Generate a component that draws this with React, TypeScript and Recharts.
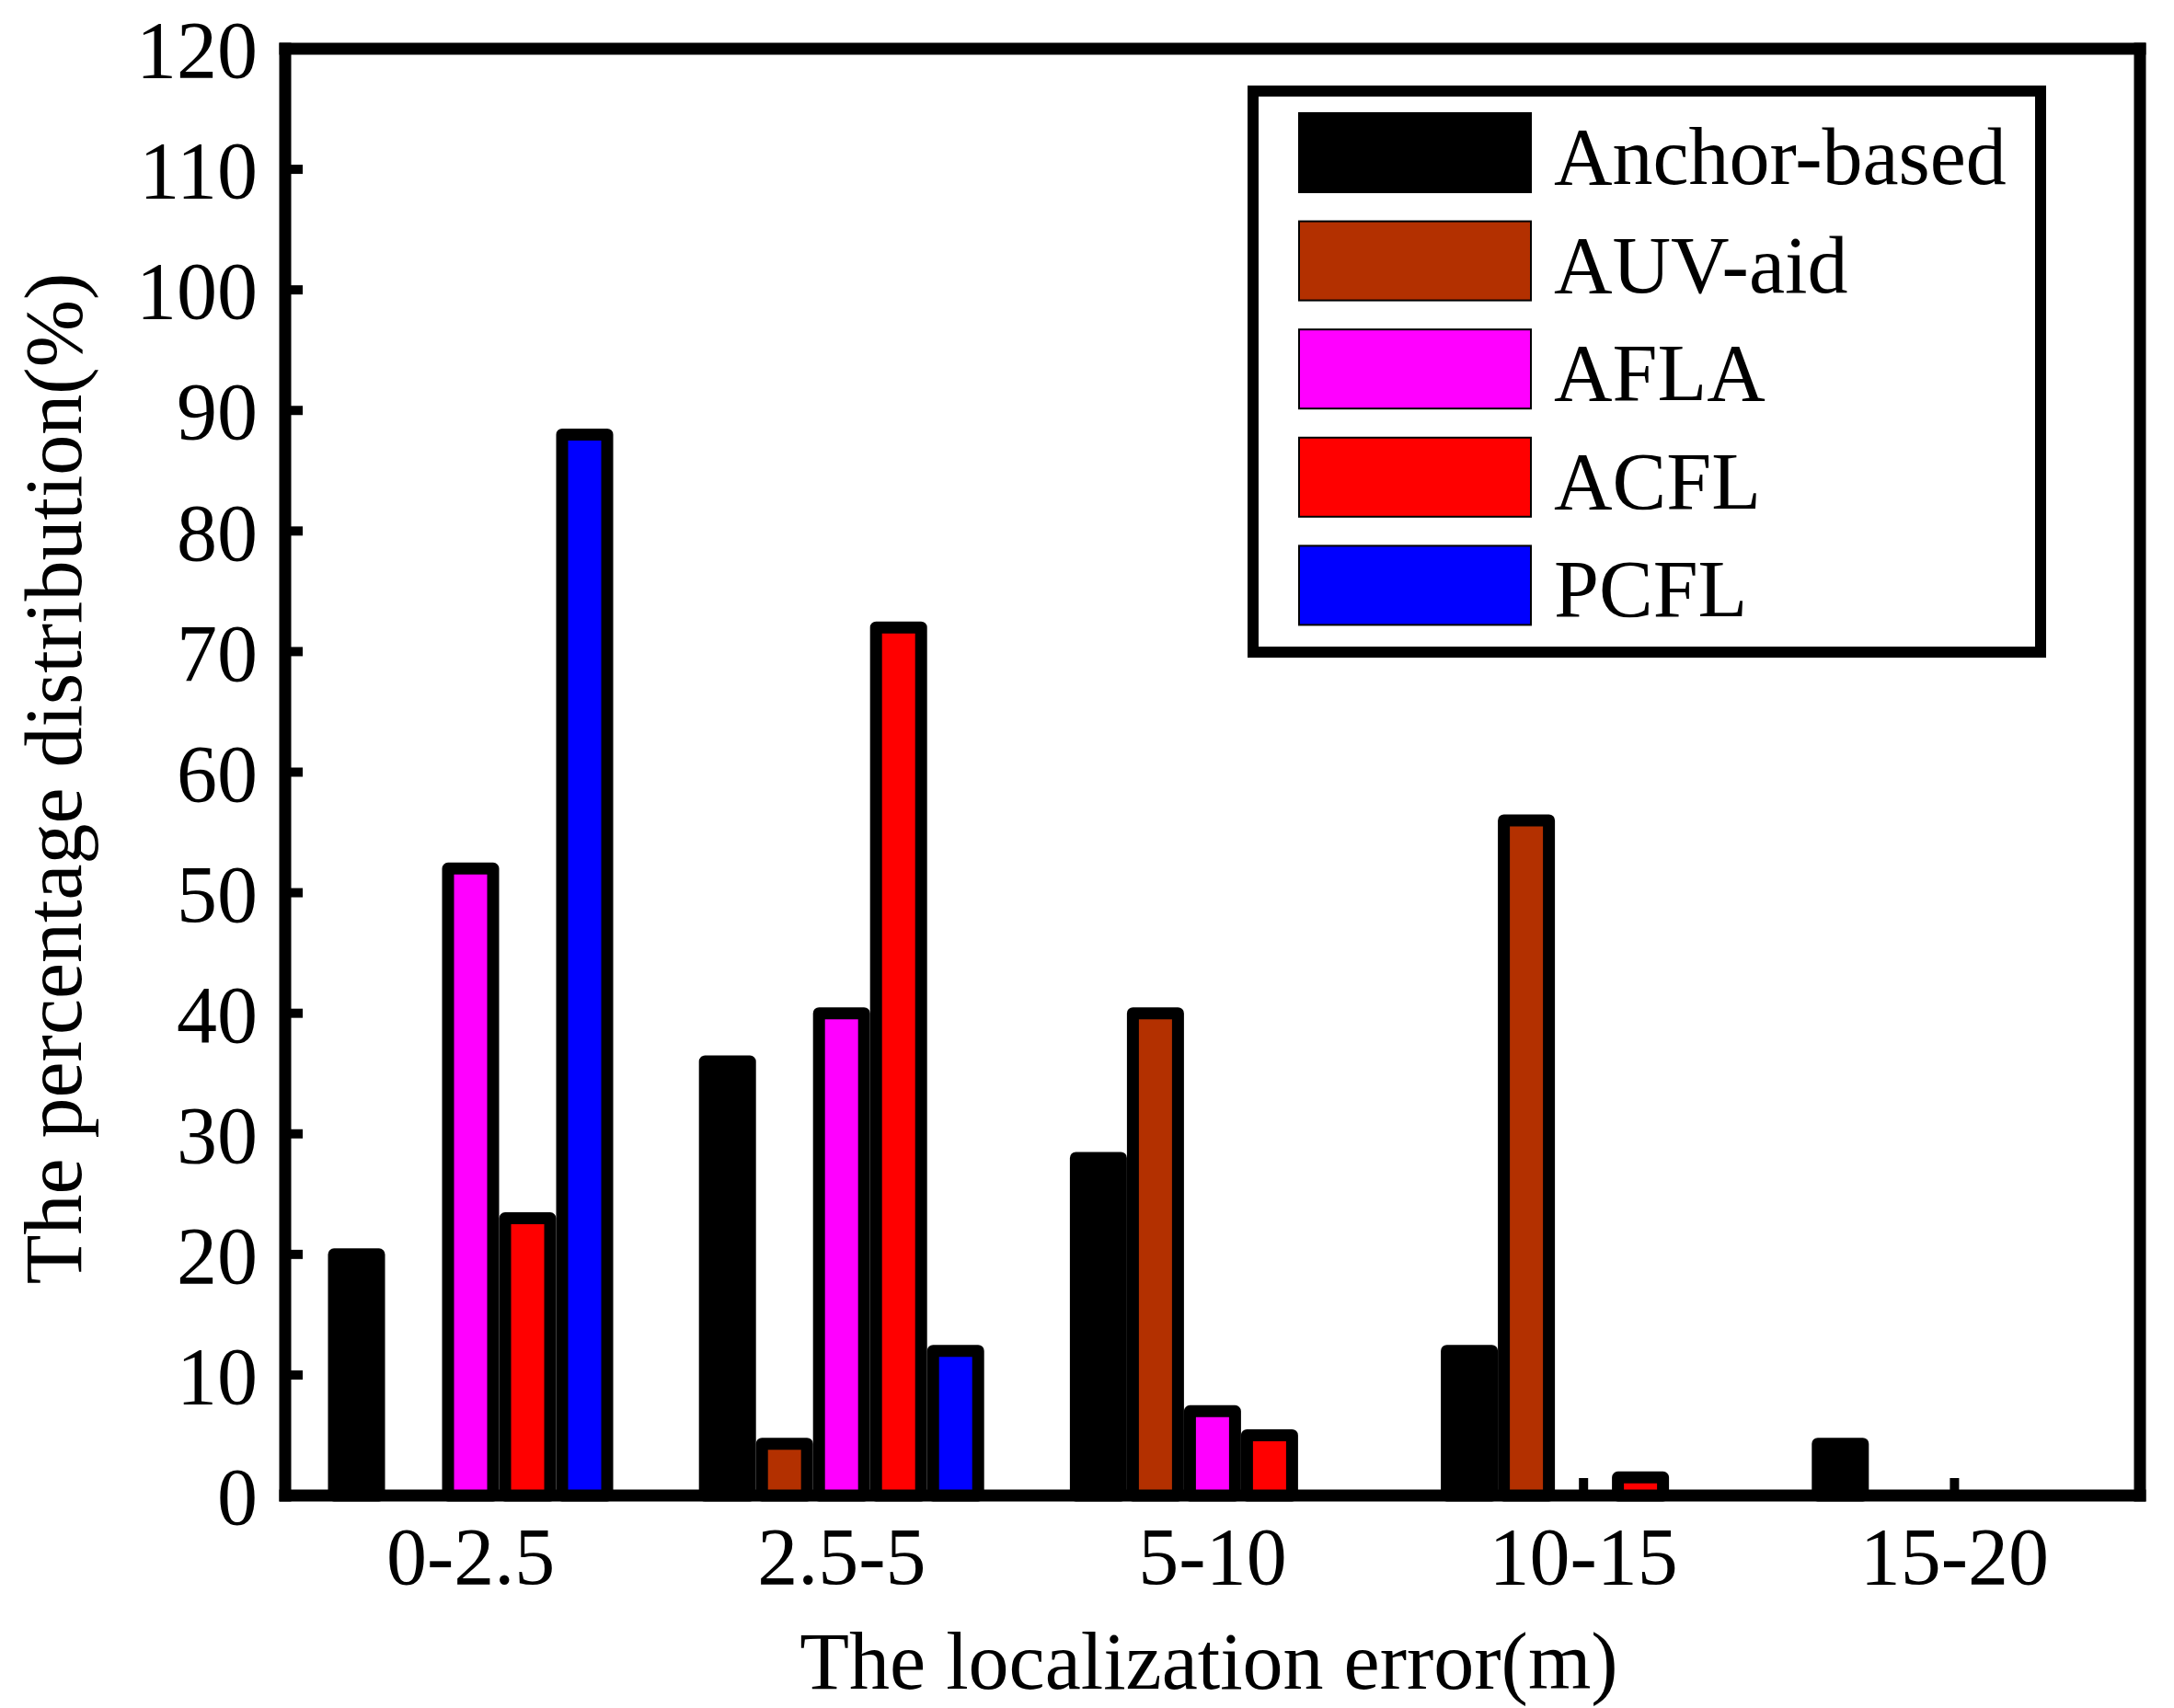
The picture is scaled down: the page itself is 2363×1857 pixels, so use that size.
import React from 'react';
import { BarChart, Bar, XAxis, YAxis, Legend, Label } from 'recharts';

const categories = ['0-2.5', '2.5-5', '5-10', '10-15', '15-20'];
const anchorBased = [20, 36, 28, 12, 4.3];
const auvAid = [0, 4.3, 40, 56, 0];
const afla = [52, 40, 7, 0, 0];
const acfl = [23, 72, 5, 1.5, 0];
const pcfl = [88, 12, 0, 0, 0];
const yTicks = [0, 10, 20, 30, 40, 50, 60, 70, 80, 90, 100, 110, 120];
const seriesNames = ['Anchor-based', 'AUV-aid', 'AFLA', 'ACFL', 'PCFL'];
const seriesColors = ['#000000', '#B33000', '#FF00FF', '#FF0000', '#0000FF'];
const seriesValues = [anchorBased, auvAid, afla, acfl, pcfl];

const data = categories.map((category, i) => {
  const row: Record<string, string | number> = { category };
  seriesValues.forEach((vals, s) => {
    row['s' + s] = vals[i];
  });
  return row;
});

const FONT = "'Liberation Serif', 'Times New Roman', serif";
const FS = 88;
const axisLineStyle = { stroke: '#000', strokeWidth: 13, strokeLinecap: 'square' as const };
const tickLineStyle = { stroke: '#000', strokeWidth: 10 };
const tickTextStyle = { fill: '#000', fontSize: FS, fontFamily: FONT };

const LegendBox = () => (
  <svg width={880} height={640} style={{ display: 'block', overflow: 'visible' }}>
    <rect x={12} y={12} width={856} height={610} fill="#fff" stroke="#000" strokeWidth={12} />
    {seriesNames.map((name, i) => (
      <g key={name}>
        <rect
          x={62}
          y={36 + i * 117.6}
          width={252}
          height={86}
          fill={seriesColors[i]}
          stroke="#000"
          strokeWidth={2}
        />
        <text x={339} y={113 + i * 117.6} fontFamily={FONT} fontSize={FS} fill="#000">
          {name}
        </text>
      </g>
    ))}
  </svg>
);

const YLabel = (props: any) => {
  const vb = props.viewBox || { x: 0, y: 53, width: 310, height: 1573 };
  const cx = vb.x + 88;
  const cy = vb.y + vb.height / 2 + 7;
  return (
    <text
      x={cx}
      y={cy}
      transform={`rotate(-90 ${cx} ${cy})`}
      textAnchor="middle"
      fontFamily={FONT}
      fontSize={FS}
      fill="#000"
    >
      The percentage distribution(%)
    </text>
  );
};

const XLabel = (props: any) => {
  const vb = props.viewBox || { x: 310, y: 1626, width: 2016, height: 231 };
  return (
    <text
      x={vb.x + vb.width / 2 - 4}
      y={vb.y + 210}
      textAnchor="middle"
      fontFamily={FONT}
      fontSize={FS}
      fill="#000"
    >
      The localization error(m)
    </text>
  );
};

export default function App() {
  return (
    <div style={{ position: 'absolute', left: 0, top: 0, width: 2363, height: 1857, background: '#fff' }}>
      <BarChart
        width={2363}
        height={1857}
        data={data}
        margin={{ top: 0, right: 0, bottom: 0, left: 0 }}
        barSize={49}
        barGap={13}
      >
        <XAxis
          dataKey="category"
          height={231}
          interval={0}
          tickSize={-19}
          tickMargin={53}
          tick={tickTextStyle}
          tickLine={tickLineStyle}
          axisLine={axisLineStyle}
        >
          <Label content={XLabel} />
        </XAxis>
        <XAxis
          xAxisId="top"
          orientation="top"
          dataKey="category"
          height={53}
          interval={0}
          tickSize={-19}
          tick={false}
          tickLine={tickLineStyle}
          axisLine={axisLineStyle}
        />
        <YAxis
          width={310}
          domain={[0, 120]}
          ticks={yTicks}
          interval={0}
          tickSize={-19}
          tickMargin={49}
          tick={tickTextStyle}
          tickLine={tickLineStyle}
          axisLine={axisLineStyle}
        >
          <Label content={YLabel} />
        </YAxis>
        <YAxis
          yAxisId="right"
          orientation="right"
          width={37}
          domain={[0, 120]}
          ticks={yTicks}
          interval={0}
          tickSize={-19}
          tick={false}
          tickLine={tickLineStyle}
          axisLine={axisLineStyle}
        />
        {seriesNames.map((name, s) => (
          <Bar
            key={name}
            dataKey={'s' + s}
            name={name}
            fill={seriesColors[s]}
            stroke="#000"
            strokeWidth={13}
            strokeLinejoin="round"
            isAnimationActive={false}
            {...({ zIndex: 600 } as any)}
          />
        ))}
        <Legend
          layout="vertical"
          align="center"
          verticalAlign="middle"
          content={() => <LegendBox />}
          wrapperStyle={{ position: 'absolute', left: 1350, top: 87, width: 880, height: 640 }}
        />
      </BarChart>
    </div>
  );
}
